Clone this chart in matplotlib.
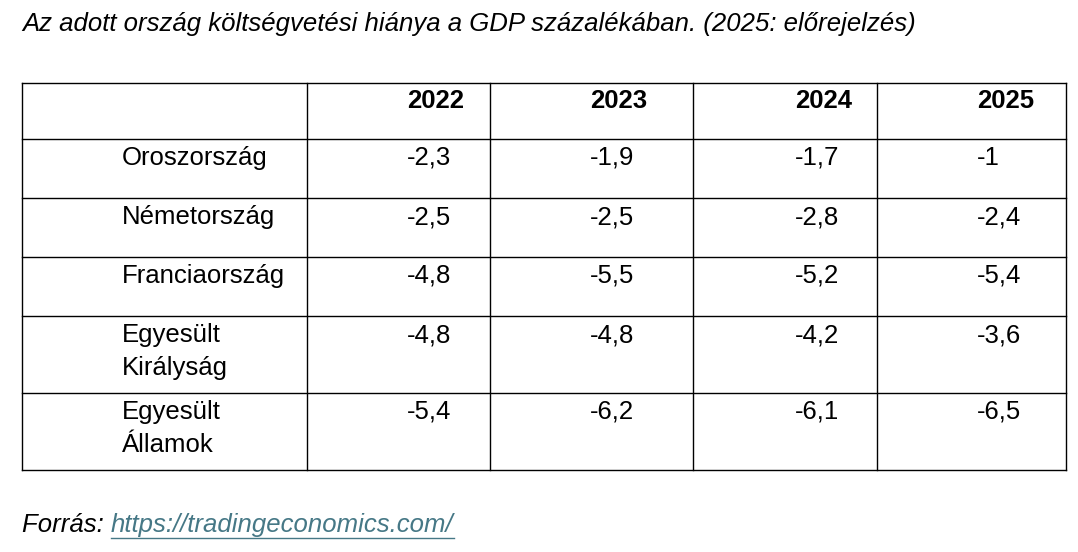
import matplotlib
matplotlib.use("Agg")
import matplotlib.pyplot as plt

title = "Az adott ország költségvetési hiánya a GDP százalékában. (2025: előrejelzés)"
years = ["2022", "2023", "2024", "2025"]
countries = ["Oroszország", "Németország", "Franciaország", "Egyesült\nKirályság", "Egyesült\nÁllamok"]
values = [
    ["-2,3", "-1,9", "-1,7", "-1"],
    ["-2,5", "-2,5", "-2,8", "-2,4"],
    ["-4,8", "-5,5", "-5,2", "-5,4"],
    ["-4,8", "-4,8", "-4,2", "-3,6"],
    ["-5,4", "-6,2", "-6,1", "-6,5"],
]
source_label = "Forrás: "
source_url = "https://tradingeconomics.com/"

FONT = "Liberation Sans"
fig = plt.figure(figsize=(10.78, 5.52), dpi=100)
ax = fig.add_axes([0, 0, 1, 1])
ax.set_xlim(0, 1078); ax.set_ylim(552, 0); ax.axis("off")

col_edges = [22, 307, 490, 693, 877, 1066]
row_edges = [83, 139, 198, 257, 316, 393, 470]
val_x = [407, 590, 795, 977]
lw = 1.0
for x in col_edges:
    ax.plot([x, x], [row_edges[0], row_edges[-1]], color="black", lw=lw)
for y in row_edges:
    ax.plot([col_edges[0], col_edges[-1]], [y, y], color="black", lw=lw)

fs = 18.5
ax.text(22, 24, title, fontsize=fs, style="italic", family=FONT, va="center", ha="left")
for x, yr in zip(val_x, years):
    ax.text(x, 101, yr, fontsize=fs, weight="bold", family=FONT, va="center", ha="left")
for i, (c, row) in enumerate(zip(countries, values)):
    top = row_edges[i + 1]
    ax.text(122, top + 7, c, fontsize=fs, family=FONT, va="top", ha="left", linespacing=1.45)
    for x, v in zip(val_x, row):
        ax.text(x, top + 7, v, fontsize=fs, family=FONT, va="top", ha="left")

t = ax.text(22, 525, source_label, fontsize=fs, style="italic", family=FONT, va="center", ha="left")
fig.canvas.draw()
bb = t.get_window_extent()
inv = ax.transData.inverted()
u = ax.text(inv.transform((bb.x1, 0))[0], 525, source_url, fontsize=fs, style="italic", family=FONT,
            va="center", ha="left", color="#467886")
fig.canvas.draw()
ub = u.get_window_extent()
x0 = inv.transform((ub.x0, 0))[0]; x1 = inv.transform((ub.x1, 0))[0]
ax.plot([x0, x1], [538, 538], color="#467886", lw=1)
fig.savefig("out.png", dpi=100)
